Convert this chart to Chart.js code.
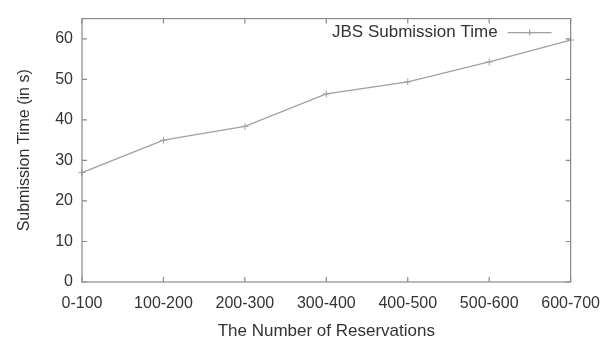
<!DOCTYPE html>
<html>
<head>
<meta charset="utf-8">
<script src="https://cdn.jsdelivr.net/npm/chart.js@4"></script>
<style>
html,body{margin:0;padding:0;background:#fff;}
#wrap{width:612px;height:340px;position:relative;}
</style>
</head>
<body>
<div id="wrap"><canvas id="c" width="612" height="340"></canvas></div>
<script>
const categories = ["0-100","100-200","200-300","300-400","400-500","500-600","600-700"];
const submissionTime = [27, 35, 38.4, 46.4, 49.4, 54.3, 59.7];
const seriesLabel = "JBS Submission Time";
const yTicks = [0, 10, 20, 30, 40, 50, 60];
const xTitle = "The Number of Reservations";
const yTitle = "Submission Time (in s)";

const FONT = "'Liberation Sans', Arial, sans-serif";
const TEXT = '#333333';
const AXIS = '#8a8a8a';
const LINE = '#a0a0a0';

function drawCross(ctx, x, y, r) {
  ctx.beginPath();
  ctx.moveTo(x - r, y); ctx.lineTo(x + r, y);
  ctx.moveTo(x, y - r); ctx.lineTo(x, y + r);
  ctx.stroke();
}

const decor = {
  id: 'decor',
  afterDraw(chart) {
    const ctx = chart.ctx;
    const a = chart.chartArea;
    const xs = chart.scales.x, ys = chart.scales.y;
    ctx.save();
    ctx.strokeStyle = AXIS;
    ctx.lineWidth = 1.2;
    ctx.strokeRect(a.left, a.top, a.right - a.left, a.bottom - a.top);
    const L = 5;
    ctx.beginPath();
    xs.ticks.forEach((t, i) => {
      const x = xs.getPixelForTick(i);
      ctx.moveTo(x, a.bottom); ctx.lineTo(x, a.bottom - L);
      ctx.moveTo(x, a.top); ctx.lineTo(x, a.top + L);
    });
    ys.ticks.forEach((t, i) => {
      const y = ys.getPixelForValue(t.value);
      ctx.moveTo(a.left, y); ctx.lineTo(a.left + L, y);
      ctx.moveTo(a.right, y); ctx.lineTo(a.right - L, y);
    });
    ctx.stroke();
    const ds = chart.data.datasets[0];
    ctx.font = '17px ' + FONT;
    ctx.fillStyle = TEXT;
    ctx.textBaseline = 'middle';
    ctx.textAlign = 'right';
    const ly = a.top + 14;
    const sx0 = a.right - 63, sx1 = a.right - 19;
    ctx.fillText(ds.label, sx0 - 10, ly);
    ctx.strokeStyle = LINE;
    ctx.lineWidth = 1.2;
    ctx.beginPath(); ctx.moveTo(sx0, ly); ctx.lineTo(sx1, ly); ctx.stroke();
    drawCross(ctx, (sx0 + sx1) / 2, ly, 3);
    ctx.restore();
  }
};

new Chart(document.getElementById('c'), {
  type: 'line',
  data: {
    labels: categories,
    datasets: [{
      label: seriesLabel,
      data: submissionTime,
      borderColor: LINE,
      backgroundColor: LINE,
      borderWidth: 1.3,
      pointStyle: 'cross',
      pointRadius: 3.5,
      pointBorderWidth: 1,
      pointBorderColor: LINE,
      tension: 0,
      clip: false
    }]
  },
  options: {
    responsive: false,
    animation: false,
    devicePixelRatio: 1,
    layout: { padding: { top: 11, right: 40, left: 11, bottom: 0 } },
    plugins: { legend: { display: false }, tooltip: { enabled: false } },
    scales: {
      x: {
        type: 'category',
        offset: false,
        grid: { display: false, drawTicks: false },
        border: { display: false },
        ticks: { color: TEXT, font: { family: FONT, size: 16 }, padding: 12, maxRotation: 0, autoSkip: false },
        title: { display: true, text: xTitle, color: TEXT, font: { family: FONT, size: 17, lineHeight: 1 }, padding: { top: 4, bottom: 0 } },
        afterFit(s) { s.height = 58; }
      },
      y: {
        min: 0, max: 65,
        grid: { display: false, drawTicks: false },
        border: { display: false },
        afterBuildTicks(s) { s.ticks = yTicks.map(v => ({ value: v })); },
        ticks: { color: TEXT, font: { family: FONT, size: 16 }, padding: 9 },
        title: { display: true, text: yTitle, color: TEXT, font: { family: FONT, size: 16 }, padding: { bottom: 6 } },
        afterFit(s) { s.width = 71; }
      }
    }
  },
  plugins: [decor]
});
</script>
</body>
</html>
